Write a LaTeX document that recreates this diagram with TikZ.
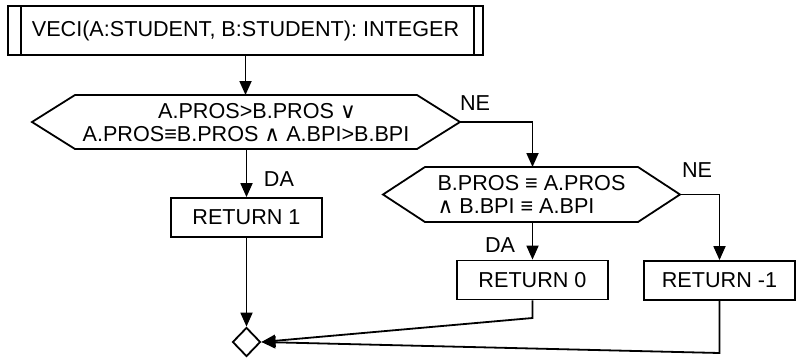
\documentclass[tikz,border=0pt]{standalone}
\usepackage{fontspec}
\setmainfont{Liberation Sans}
\newfontfamily\symfont{DejaVu Sans}
\usetikzlibrary{arrows.meta,shapes.geometric}
\newcommand{\myor}{{\symfont ∨}}
\newcommand{\myand}{{\symfont ∧}}
\begin{document}
\begin{tikzpicture}[x=1pt,y=-1pt, line width=1.8pt,
  font=\fontsize{21.6}{23}\selectfont,
  retbox/.style={draw, minimum width=151pt, minimum height=39pt, inner sep=0pt},
  lbl/.style={inner sep=0pt},
  arr/.style={-{Triangle[length=14pt,width=12pt]}}]
\useasboundingbox (0,0) rectangle (801,360);

% header box
\node[draw, minimum width=475pt, minimum height=49pt, inner sep=0pt] (top) at (245.5,30.5)
  {VECI(A:STUDENT, B:STUDENT): INTEGER};
\draw ([xshift=14pt]top.north west) -- ([xshift=14pt]top.south west);
\draw ([xshift=-10pt]top.north east) -- ([xshift=-10pt]top.south east);

% decision 1
\coordinate (h1w) at (32,122);
\coordinate (h1e) at (460,122);
\coordinate (h1n) at (245.5,95);
\coordinate (h1s) at (246.5,149);
\draw (h1w) -- (75,95) -- (417,95) -- (h1e) -- (417,149) -- (75,149) -- cycle;
\node[lbl, align=center] (h1) at (246,123)
  {\hspace*{22pt}A.PROS>B.PROS \myor\\A.PROS≡B.PROS \myand{} A.BPI>B.BPI};

% decision 2
\coordinate (h2w) at (383,194.5);
\coordinate (h2e) at (680,194.5);
\coordinate (h2n) at (532.5,167);
\coordinate (h2s) at (532.5,222);
\draw (h2w) -- (425,167) -- (638,167) -- (h2e) -- (638,222) -- (425,222) -- cycle;
\node[lbl, align=left] (h2) at (531.5,194.5)
  {B.PROS ≡ A.PROS\\\myand{} B.BPI ≡ A.BPI};

% return boxes
\node[retbox] (ret1) at (246.5,217.5) {RETURN 1};
\node[retbox] (ret0) at (532.5,280) {RETURN 0};
\node[retbox] (retm) at (719.5,280.5) {RETURN -1};

% merge
\node[draw, diamond, minimum width=28pt, minimum height=29pt, inner sep=0pt] (dia) at (246.5,342) {};

% labels
\node[lbl] (da1) at (279,179) {DA};
\node[lbl] (ne1) at (475,103) {NE};
\node[lbl] (ne2) at (697,170) {NE};
\node[lbl] (da2) at (500,245) {DA};

% connectors
\draw[arr] (top.south) -- (h1n);
\draw[arr] (h1s) -- (ret1.north);
\draw[arr] (h1e) -| (h2n);
\draw[arr] (h2s) -- (ret0.north);
\draw[arr] (h2e) -| (retm.north);
\draw[arr] (ret1.south) -- (dia.north);
\coordinate (k0) at (532.5,318);
\coordinate (k1) at (719.5,353);
\draw[arr] (ret0.south) -- (k0) -- (dia.east);
\draw[arr] (retm.south) -- (k1) -- (dia.east);
\end{tikzpicture}
\end{document}
